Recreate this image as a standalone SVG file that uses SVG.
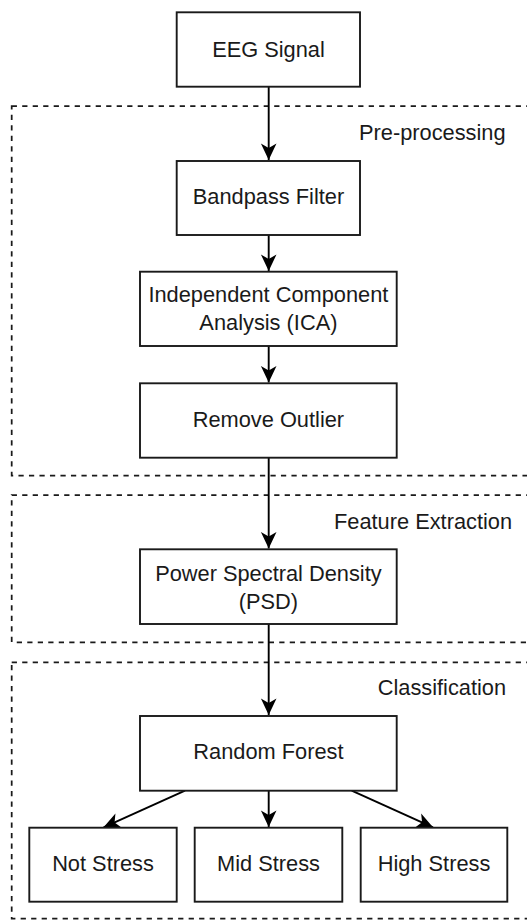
<svg xmlns="http://www.w3.org/2000/svg" width="527" height="920" viewBox="0 0 527 920">
<style>
.box{fill:#fff;stroke:#1a1a1a;stroke-width:1.9}
.grp{fill:none;stroke:#1a1a1a;stroke-width:1.75;stroke-dasharray:5.25 5.25}
.t{font-family:"Liberation Sans",Arial,sans-serif;font-size:21.8px;fill:#1a1a1a}
.c{text-anchor:middle}
.edge{fill:none;stroke:#000;stroke-width:1.9}
</style>
<defs>
<marker id="arr" markerUnits="userSpaceOnUse" markerWidth="20" markerHeight="20" refX="0" refY="0" viewBox="-18 -10 20 20" orient="auto">
<path d="M0,0 L-16.5,-7.8 L-12,0 L-16.5,7.8 Z" fill="#000"/>
</marker>
</defs>
<g id="groups">
<rect id="preprocessing" class="grp" x="11.7" y="106" width="530" height="369.5"/>
<rect id="feature-extraction" class="grp" x="11.7" y="495" width="530" height="147.3"/>
<rect id="classification" class="grp" x="11.7" y="662.3" width="530" height="256.2"/>
<text class="t" x="359" y="140">Pre-processing</text>
<text class="t" x="334" y="529">Feature Extraction</text>
<text class="t" x="377.7" y="695">Classification</text>
</g>
<g id="connectors">
<path class="edge" d="M268.7,87 L268.7,160" marker-end="url(#arr)"/>
<path class="edge" d="M268.7,235 L268.7,271" marker-end="url(#arr)"/>
<path class="edge" d="M268.7,346 L268.7,382.5" marker-end="url(#arr)"/>
<path class="edge" d="M268.7,457.7 L268.7,548.5" marker-end="url(#arr)"/>
<path class="edge" d="M268.7,624 L268.7,715" marker-end="url(#arr)"/>
<path class="edge" d="M268.7,790.7 L268.7,827" marker-end="url(#arr)"/>
<path class="edge" d="M185,790.7 L103.6,827.3" marker-end="url(#arr)"/>
<path class="edge" d="M351.7,790.7 L433,827.3" marker-end="url(#arr)"/>
</g>
<g id="eeg-signal">
<rect class="box" x="176.7" y="12.3" width="183.3" height="74.4"/>
<text class="t c" x="268.5" y="56.7">EEG Signal</text>
</g>
<g id="bandpass-filter">
<rect class="box" x="176.7" y="161" width="183.3" height="74"/>
<text class="t c" x="268.5" y="204.3">Bandpass Filter</text>
</g>
<g id="ica">
<rect class="box" x="140" y="271.7" width="256.7" height="74.3"/>
<text class="t c" x="268.4" y="302.3">Independent Component</text>
<text class="t c" x="268.4" y="330">Analysis (ICA)</text>
</g>
<g id="remove-outlier">
<rect class="box" x="140" y="383.3" width="256.7" height="74.4"/>
<text class="t c" x="268.4" y="426.7">Remove Outlier</text>
</g>
<g id="psd">
<rect class="box" x="140" y="549.3" width="256.7" height="74.7"/>
<text class="t c" x="268.4" y="580.7">Power Spectral Density</text>
<text class="t c" x="268.4" y="609.3">(PSD)</text>
</g>
<g id="random-forest">
<rect class="box" x="140" y="716" width="256.7" height="74.7"/>
<text class="t c" x="268.4" y="759.3">Random Forest</text>
</g>
<g id="not-stress">
<rect class="box" x="29.3" y="827.7" width="147.4" height="74"/>
<text class="t c" x="103" y="871">Not Stress</text>
</g>
<g id="mid-stress">
<rect class="box" x="194.7" y="827.7" width="147.6" height="74"/>
<text class="t c" x="268.5" y="871">Mid Stress</text>
</g>
<g id="high-stress">
<rect class="box" x="360.7" y="827.7" width="146.6" height="74"/>
<text class="t c" x="434" y="871">High Stress</text>
</g>
</svg>
